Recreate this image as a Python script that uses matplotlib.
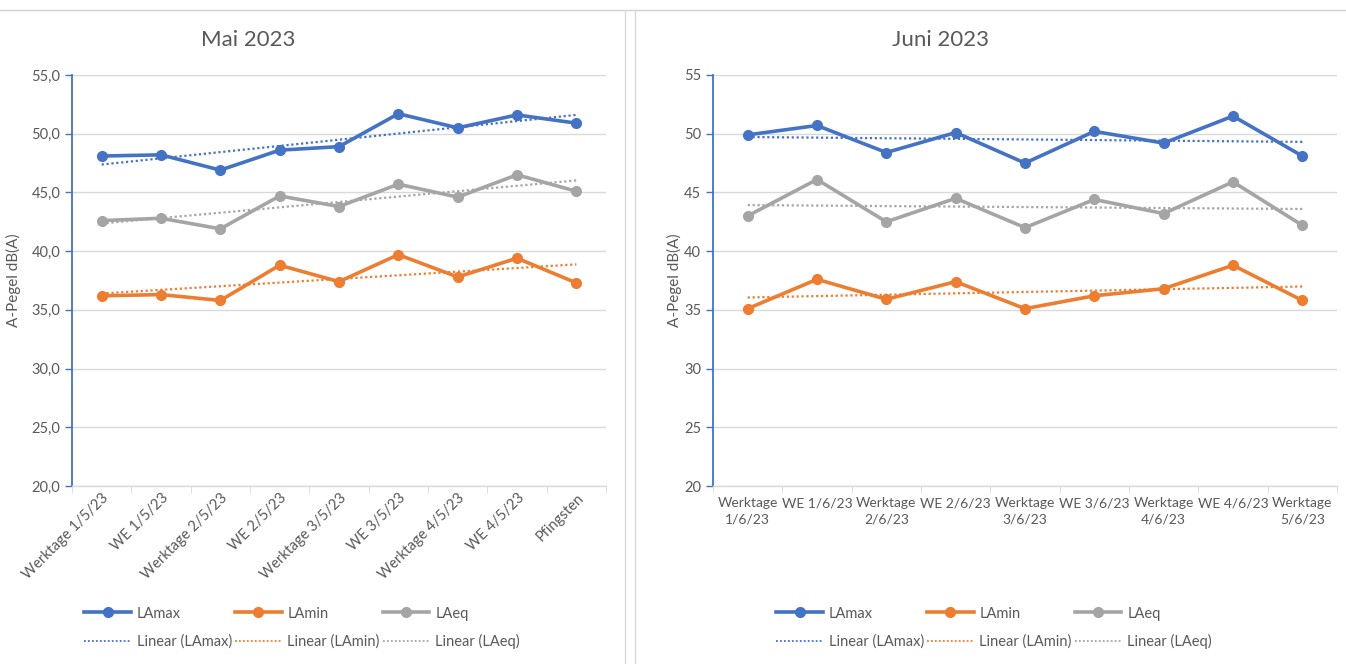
import numpy as np
import matplotlib.pyplot as plt
from matplotlib.lines import Line2D
from matplotlib.ticker import FuncFormatter

# Categories
may_labels = ["Werktage 1/5/23", "WE 1/5/23", "Werktage 2/5/23", "WE 2/5/23",
              "Werktage 3/5/23", "WE 3/5/23", "Werktage 4/5/23", "WE 4/5/23",
              "Pfingsten"]
jun_labels = ["Werktage\n1/6/23", "WE 1/6/23", "Werktage\n2/6/23", "WE 2/6/23",
              "Werktage\n3/6/23", "WE 3/6/23", "Werktage\n4/6/23", "WE 4/6/23",
              "Werktage\n5/6/23"]

# Mai 2023
may_lamax = [48.1, 48.2, 46.9, 48.6, 48.9, 51.7, 50.5, 51.6, 50.9]
may_lamin = [36.2, 36.3, 35.8, 38.8, 37.4, 39.7, 37.8, 39.4, 37.3]
may_laeq = [42.6, 42.8, 41.9, 44.7, 43.8, 45.7, 44.6, 46.5, 45.1]

# Juni 2023
jun_lamax = [49.9, 50.7, 48.4, 50.1, 47.5, 50.2, 49.2, 51.5, 48.1]
jun_lamin = [35.1, 37.6, 35.9, 37.4, 35.1, 36.2, 36.8, 38.8, 35.8]
jun_laeq = [43.0, 46.1, 42.5, 44.5, 42.0, 44.4, 43.2, 45.9, 42.2]

BLUE = "#4472C4"
ORANGE = "#ED7D31"
GRAY = "#A5A5A5"
GRID = "#D9D9D9"
TEXT = "#595959"

plt.rcParams['font.family'] = ['Lato', 'DejaVu Sans']

fig = plt.figure(figsize=(13.46, 6.64), dpi=100)

# frame lines of the screenshot
fig.add_artist(Line2D([0, 1], [1 - 10 / 664, 1 - 10 / 664], color="#D0D0D0", lw=1))
fig.add_artist(Line2D([625 / 1346] * 2, [0, 1 - 10 / 664], color="#D9D9D9", lw=1))
fig.add_artist(Line2D([635 / 1346] * 2, [0, 1 - 10 / 664], color="#D9D9D9", lw=1))


def draw_panel(ax, labels, series, decimals, rotate):
    x = np.arange(len(labels))
    for vals, col in series:
        vals = np.asarray(vals)
        ax.plot(x, vals, color=col, lw=2.6, marker="o", ms=7, zorder=3,
                solid_joinstyle="round")
        k, d = np.polyfit(x, vals, 1)
        ax.plot(x, k * x + d, color=col, lw=1.6, ls=(0, (1, 1.2)), zorder=2)

    ax.set_xlim(-0.5, len(labels) - 0.5)
    ax.set_ylim(20, 55)
    ax.set_yticks(np.arange(20, 56, 5))
    if decimals:
        ax.yaxis.set_major_formatter(FuncFormatter(lambda v, p: f"{v:.1f}".replace(".", ",")))
    else:
        ax.yaxis.set_major_formatter(FuncFormatter(lambda v, p: f"{v:.0f}"))
    ax.grid(axis="y", color=GRID, lw=1)
    ax.set_axisbelow(True)

    for s in ["top", "right"]:
        ax.spines[s].set_visible(False)
    ax.spines["left"].set_color(BLUE)
    ax.spines["left"].set_linewidth(1.3)
    ax.spines["bottom"].set_color(GRID)
    ax.spines["bottom"].set_linewidth(1)

    ax.tick_params(axis="y", colors=BLUE, length=5, width=1,
                   labelcolor=TEXT, labelsize=10.5)
    ax.set_xticks(x)
    ax.set_xticks(np.arange(-0.5, len(labels)), minor=True)
    ax.tick_params(axis="x", which="minor", length=5, color=GRID)
    if rotate:
        ax.tick_params(axis="x", which="major", length=0, labelcolor=TEXT,
                       labelsize=10.5)
        ax.set_xticklabels(labels, rotation=45, ha="right", rotation_mode="anchor")
    else:
        ax.tick_params(axis="x", which="major", length=0, labelcolor=TEXT,
                       labelsize=10, pad=8)
        ax.set_xticklabels(labels, linespacing=1.45)
    ax.set_ylabel("A-Pegel dB(A)", color=TEXT, fontsize=11)


ax1 = fig.add_axes([72 / 1346, 1 - 486 / 664, 534 / 1346, 411 / 664])
draw_panel(ax1, may_labels,
           [(may_lamax, BLUE), (may_lamin, ORANGE), (may_laeq, GRAY)],
           True, True)
ax1.yaxis.set_label_coords(-0.095, 0.5)

ax2 = fig.add_axes([713 / 1346, 1 - 486 / 664, 624 / 1346, 411 / 664])
draw_panel(ax2, jun_labels,
           [(jun_lamax, BLUE), (jun_lamin, ORANGE), (jun_laeq, GRAY)],
           False, False)
ax2.yaxis.set_label_coords(-0.05, 0.5)

fig.text(248 / 1346, 1 - 40 / 664, "Mai 2023", ha="center", va="center",
         fontsize=16, color=TEXT)
fig.text(940 / 1346, 1 - 40 / 664, "Juni 2023", ha="center", va="center",
         fontsize=16, color=TEXT)


def legend_handles():
    h = []
    for name, col in [("LAmax", BLUE), ("LAmin", ORANGE), ("LAeq", GRAY)]:
        h.append(Line2D([], [], color=col, lw=2.6, marker="o", ms=7, label=name))
        h.append(Line2D([], [], color=col, lw=1.3, ls=(0, (1, 1.2)),
                        label=f"Linear ({name})"))
    return h


for cx in (302 / 1346, 994 / 1346):
    fig.legend(handles=legend_handles(), ncol=3, loc="center",
               bbox_to_anchor=(cx, 1 - 628 / 664), frameon=False,
               fontsize=10.5, labelcolor=TEXT, handlelength=3.2,
               handletextpad=0.4, columnspacing=0.2, labelspacing=0.95)

plt.savefig("out.png", dpi=100)
